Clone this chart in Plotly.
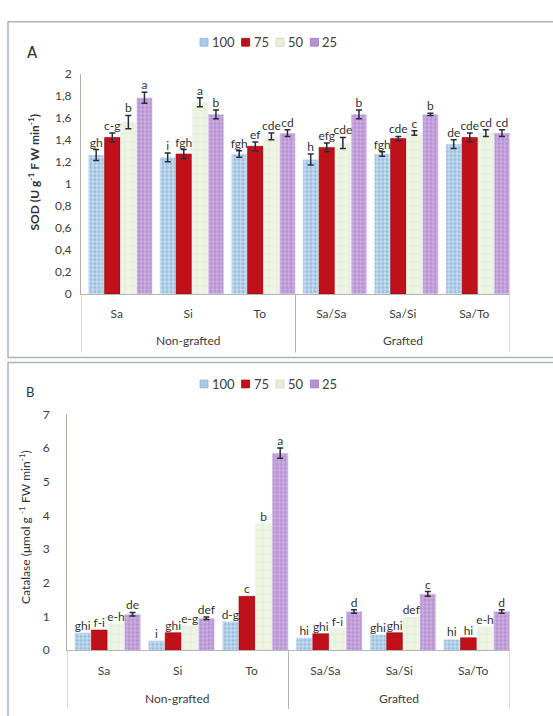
import plotly.graph_objects as go

# ---- data -------------------------------------------------------------
categories = ["Sa", "Si", "To", "Sa/Sa", "Sa/Si", "Sa/To"]
groups = ["Non-grafted", "Grafted"]
group_first = [0, 3]
group_last = [2, 5]
series = ["100", "75", "50", "25"]

# SOD activity (U g-1 FW min-1)
sod_100 = [1.26, 1.24, 1.27, 1.22, 1.27, 1.36]
sod_75 = [1.42, 1.27, 1.34, 1.33, 1.41, 1.42]
sod_50 = [1.56, 1.74, 1.43, 1.37, 1.46, 1.46]
sod_25 = [1.78, 1.63, 1.46, 1.63, 1.63, 1.46]
sod_err_100 = [0.05, 0.04, 0.03, 0.05, 0.02, 0.04]
sod_err_75 = [0.04, 0.04, 0.04, 0.04, 0.02, 0.04]
sod_err_50 = [0.06, 0.04, 0.03, 0.05, 0.02, 0.03]
sod_err_25 = [0.05, 0.04, 0.03, 0.04, 0.01, 0.03]
sod_let_100 = ["gh", "i", "fgh", "h", "fgh", "de"]
sod_let_75 = ["c-g", "fgh", "ef", "efg", "cde", "cde"]
sod_let_50 = ["b", "a", "cde", "cde", "c", "cd"]
sod_let_25 = ["a", "b", "cd", "b", "b", "cd"]

# Catalase activity (umol g-1 FW min-1)
cat_100 = [0.52, 0.28, 0.85, 0.37, 0.46, 0.32]
cat_75 = [0.60, 0.52, 1.60, 0.49, 0.52, 0.37]
cat_50 = [0.78, 0.72, 3.75, 0.64, 0.98, 0.69]
cat_25 = [1.07, 0.95, 5.85, 1.15, 1.67, 1.15]
cat_err_100 = [0, 0, 0, 0, 0, 0]
cat_err_75 = [0, 0, 0, 0, 0, 0]
cat_err_50 = [0, 0, 0, 0, 0, 0]
cat_err_25 = [0.05, 0.04, 0.15, 0.05, 0.07, 0.05]
cat_let_100 = ["ghi", "i", "d-g", "hi", "ghi", "hi"]
cat_let_75 = ["f-i", "ghi", "c", "ghi", "ghi", "hi"]
cat_let_50 = ["e-h", "e-g", "b", "f-i", "def", "e-h"]
cat_let_25 = ["de", "def", "a", "d", "c", "d"]

# ---- styling ----------------------------------------------------------
W, H = 553, 716
FONT = "Lato, 'Open Sans', sans-serif"
TXT = "#404040"

styles = [
    dict(color="#bcd7ee", pattern=dict(shape=".", fgcolor="#6f9bc8", bgcolor="#c4dcf1", size=4, solidity=0.5)),
    dict(color="#c0101a", line=dict(color="#8e0c12", width=0.6)),
    dict(color="#eaf2df", pattern=dict(shape="+", fgcolor="#c4d9b0", bgcolor="#eef5e5", size=8, solidity=0.15)),
    dict(color="#c29ed9", pattern=dict(shape=".", fgcolor="#9c76bb", bgcolor="#cbaae0", size=4, solidity=0.45)),
]
swatch_fill = ["#a9c9e6", "#c0101a", "#e6efda", "#b792d2"]
swatch_line = ["#8fb2d6", "#8e0c12", "#c9d8b6", "#9d78bb"]


def px_x(p):
    return p / W


def px_y(p):
    return (H - p) / H


bar_w = 0.225
offsets = [(j - 1.5) * bar_w + 0.05 for j in range(4)]

fig = go.Figure()


def add_panel(vals, errs, lets, xa, ya, font_size):
    for j in range(4):
        xpos = [i + offsets[j] for i in range(len(categories))]
        fig.add_trace(go.Bar(
            x=xpos, y=vals[j], width=bar_w * 0.96,
            name=series[j], marker=styles[j],
            error_y=dict(type="data", array=errs[j], color="#2b2b3a",
                         thickness=1.5, width=3, visible=any(e > 0 for e in errs[j])),
            xaxis=xa, yaxis=ya, showlegend=False,
            hoverinfo="skip",
        ))
        fig.add_trace(go.Scatter(
            x=xpos, y=[v + e for v, e in zip(vals[j], errs[j])],
            mode="text", text=lets[j], textposition="top center",
            textfont=dict(family=FONT, size=font_size, color="#333333"),
            xaxis=xa, yaxis=ya, showlegend=False, hoverinfo="skip",
            cliponaxis=False,
        ))


add_panel([sod_100, sod_75, sod_50, sod_25],
          [sod_err_100, sod_err_75, sod_err_50, sod_err_25],
          [sod_let_100, sod_let_75, sod_let_50, sod_let_25],
          "x", "y", 12)
add_panel([cat_100, cat_75, cat_50, cat_25],
          [cat_err_100, cat_err_75, cat_err_50, cat_err_25],
          [cat_let_100, cat_let_75, cat_let_50, cat_let_25],
          "x2", "y2", 12)

# panel geometry in pixels
A = dict(left=81, right=510, top=67, bottom=292)
B = dict(left=67, right=510, top=415, bottom=656)

xcommon = dict(range=[-0.5, 5.5], tickvals=list(range(6)), ticktext=categories,
               showline=True, linecolor="#b5b5b5", linewidth=1, ticks="",
               showgrid=False, zeroline=False, ticklabelstandoff=9,
               tickfont=dict(family=FONT, size=12, color=TXT), fixedrange=True)
ycommon = dict(showline=True, linecolor="#b8aca6", linewidth=1, ticks="",
               showgrid=False, zeroline=False,
               tickfont=dict(family=FONT, size=12, color=TXT), fixedrange=True)

fig.update_layout(
    width=W, height=H, autosize=False,
    margin=dict(l=0, r=0, t=0, b=0, pad=0),
    paper_bgcolor="white", plot_bgcolor="white",
    barmode="overlay", separators=",.", showlegend=False,
    font=dict(family=FONT, color=TXT),
    xaxis=dict(domain=[px_x(A["left"]), px_x(A["right"])], anchor="y", **xcommon),
    yaxis=dict(domain=[px_y(A["bottom"]), px_y(A["top"])], anchor="x",
               range=[0, 2], dtick=0.2, tickformat=".1~f", ticklabelstandoff=6, **ycommon),
    xaxis2=dict(domain=[px_x(B["left"]), px_x(B["right"])], anchor="y2", **xcommon),
    yaxis2=dict(domain=[px_y(B["bottom"]), px_y(B["top"])], anchor="x2",
                range=[0, 7], dtick=1, ticklabelstandoff=14, **ycommon),
)

shapes = []
annotations = []

# panel frames
for top, bottom in [(14, 357), (362, 740)]:
    shapes.append(dict(type="rect", xref="paper", yref="paper",
                       x0=px_x(8), x1=px_x(570), y0=px_y(bottom), y1=px_y(top),
                       line=dict(color="#aab4bd", width=1.5), fillcolor="rgba(0,0,0,0)",
                       layer="below"))

# group dividers and group labels under each category axis
for xa, geo, ylab, ydiv in [("x", A, 340, 352), ("x2", B, 705, 716)]:
    edges = sorted(set([f - 0.5 for f in group_first] + [l + 0.5 for l in group_last]))
    for e in edges:
        shapes.append(dict(type="line", xref=xa, yref="paper", x0=e, x1=e,
                           y0=px_y(geo["bottom"]), y1=px_y(ydiv),
                           line=dict(color="#b5b5b5", width=1)))
    for g, f, l in zip(groups, group_first, group_last):
        annotations.append(dict(x=(f + l) / 2, xref=xa, y=px_y(ylab), yref="paper",
                                text=g, showarrow=False, xanchor="center", yanchor="middle",
                                font=dict(family=FONT, size=12, color=TXT)))

# compact series key above each panel
CHAR_W = 7.2
for ykey in (35, 384):
    xk = 200
    for name, fc, lc in zip(series, swatch_fill, swatch_line):
        shapes.append(dict(type="rect", xref="paper", yref="paper",
                           x0=px_x(xk), x1=px_x(xk + 8), y0=px_y(ykey + 4), y1=px_y(ykey - 4),
                           fillcolor=fc, line=dict(color=lc, width=0.8)))
        annotations.append(dict(x=px_x(xk + 10), y=px_y(ykey), xref="paper", yref="paper",
                                text=name, showarrow=False, xanchor="left", yanchor="middle",
                                font=dict(family=FONT, size=13, color=TXT)))
        xk += 8 + 2 + CHAR_W * len(name) + 10

# panel letters
annotations.append(dict(x=px_x(32), y=px_y(46), xref="paper", yref="paper", text="A",
                        xanchor="center", yanchor="middle", showarrow=False,
                        font=dict(family="DejaVu Sans", size=15, color="#333333")))
annotations.append(dict(x=px_x(30), y=px_y(392), xref="paper", yref="paper", text="B",
                        xanchor="center", yanchor="middle", showarrow=False,
                        font=dict(family=FONT, size=13, color="#333333")))

# y-axis titles
annotations.append(dict(x=px_x(34), y=px_y(168), xref="paper", yref="paper", textangle=-90,
                        xanchor="center", yanchor="middle",
                        text="<b>SOD (U g<sup>-1</sup> F W min<sup>-1</sup>)</b>",
                        showarrow=False, font=dict(family=FONT, size=12, color="#333333")))
annotations.append(dict(x=px_x(25), y=px_y(530), xref="paper", yref="paper", textangle=-90,
                        xanchor="center", yanchor="middle",
                        text="Catalase (μmol g <sup>-1</sup> FW min<sup>-1</sup>)",
                        showarrow=False, font=dict(family=FONT, size=12, color="#333333")))

fig.update_layout(shapes=shapes, annotations=annotations)

fig.write_html("out.html")
